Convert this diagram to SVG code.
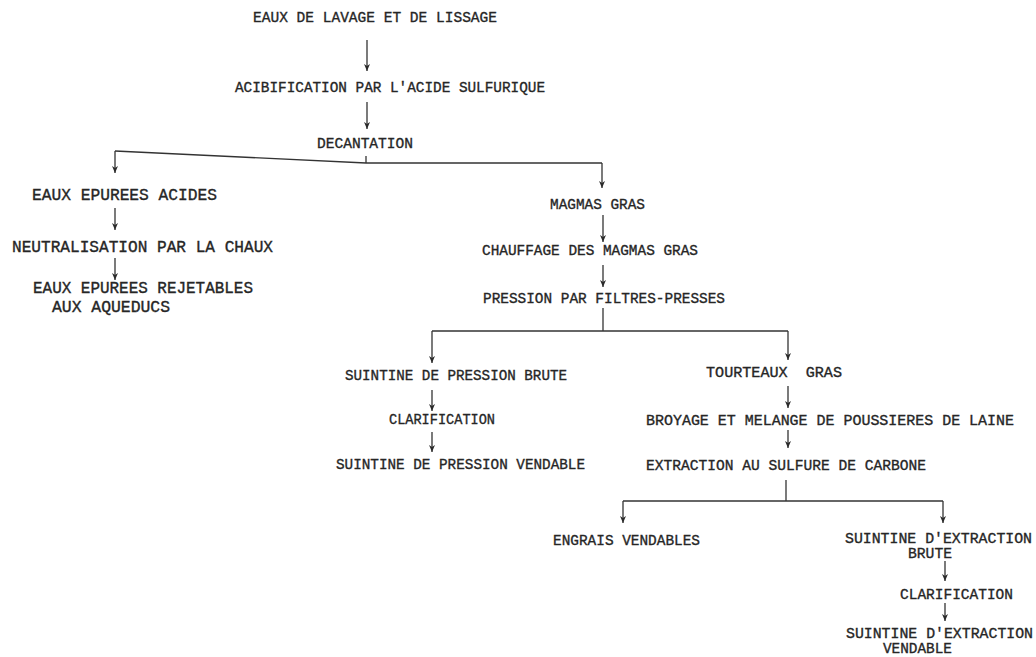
<svg xmlns="http://www.w3.org/2000/svg" width="1036" height="657" viewBox="0 0 1036 657">
  <defs>
    <marker id="ah" markerUnits="userSpaceOnUse" markerWidth="6" markerHeight="7" refX="3" refY="7" orient="0" viewBox="0 0 6 7">
      <path d="M0,0 L3,7 L6,0 L3,2 z" fill="#2a2a2a"/>
    </marker>
  </defs>
  <style>
    text { font-family: "Liberation Mono", "DejaVu Sans Mono", monospace; font-size: 15px; fill: #262626; stroke: #262626; stroke-width: 0.35; white-space: pre; }
    .big { font-size: 16px; }
    .c { fill: none; stroke: #333; stroke-width: 1.3; }
    .a { fill: none; stroke: #333; stroke-width: 1.3; marker-end: url(#ah); }
  </style>
  <rect width="1036" height="657" fill="#ffffff"/>

  <g id="connectors">
    <path class="a" d="M367,40 V71"/>
    <path class="a" d="M367,102 V129"/>
    <path class="c" d="M366,156 V163"/>
    <path class="c" d="M115,151 L366,163 L602,163"/>
    <path class="a" d="M115,151 V173"/>
    <path class="a" d="M602,163 V188"/>
    <path class="a" d="M115,208 V230"/>
    <path class="a" d="M115,258 V280"/>
    <path class="a" d="M603,215 V242"/>
    <path class="a" d="M603,265 V287"/>
    <path class="c" d="M603,308 V331"/>
    <path class="c" d="M432,331 H788"/>
    <path class="a" d="M432,331 V363"/>
    <path class="a" d="M788,331 V360"/>
    <path class="a" d="M432,390 V411"/>
    <path class="a" d="M432,432 V452"/>
    <path class="a" d="M788,386 V408"/>
    <path class="a" d="M788,430 V448"/>
    <path class="c" d="M786,480 V501"/>
    <path class="c" d="M623,501 H943"/>
    <path class="a" d="M623,501 V523"/>
    <path class="a" d="M943,501 V523"/>
    <path class="a" d="M945,561 V581"/>
    <path class="a" d="M945,603 V621"/>
  </g>

  <g id="n-eaux-lavage"><text x="253" y="22" textLength="244" lengthAdjust="spacingAndGlyphs">EAUX DE LAVAGE ET DE LISSAGE</text></g>
  <g id="n-acidification"><text x="235" y="92" textLength="310" lengthAdjust="spacingAndGlyphs">ACIBIFICATION PAR L'ACIDE SULFURIQUE</text></g>
  <g id="n-decantation"><text x="317" y="148" textLength="96" lengthAdjust="spacingAndGlyphs">DECANTATION</text></g>

  <g id="n-eaux-acides"><text class="big" x="32" y="200" textLength="185" lengthAdjust="spacingAndGlyphs">EAUX EPUREES ACIDES</text></g>
  <g id="n-neutralisation"><text class="big" x="12" y="252" textLength="261" lengthAdjust="spacingAndGlyphs">NEUTRALISATION PAR LA CHAUX</text></g>
  <g id="n-eaux-rejetables">
    <text class="big" x="33" y="293" textLength="220" lengthAdjust="spacingAndGlyphs">EAUX EPUREES REJETABLES</text>
    <text class="big" x="52" y="312" textLength="118" lengthAdjust="spacingAndGlyphs">AUX AQUEDUCS</text>
  </g>

  <g id="n-magmas"><text x="550" y="209" textLength="95" lengthAdjust="spacingAndGlyphs">MAGMAS GRAS</text></g>
  <g id="n-chauffage"><text x="482" y="255" textLength="216" lengthAdjust="spacingAndGlyphs">CHAUFFAGE DES MAGMAS GRAS</text></g>
  <g id="n-pression"><text x="483" y="303" textLength="242" lengthAdjust="spacingAndGlyphs">PRESSION PAR FILTRES-PRESSES</text></g>

  <g id="n-suintine-brute"><text x="345" y="380" textLength="222" lengthAdjust="spacingAndGlyphs">SUINTINE DE PRESSION BRUTE</text></g>
  <g id="n-clarification-1"><text x="389" y="424" textLength="106" lengthAdjust="spacingAndGlyphs">CLARIFICATION</text></g>
  <g id="n-suintine-vendable"><text x="336" y="469" textLength="249" lengthAdjust="spacingAndGlyphs">SUINTINE DE PRESSION VENDABLE</text></g>

  <g id="n-tourteaux"><text x="706" y="377" textLength="136" lengthAdjust="spacingAndGlyphs">TOURTEAUX  GRAS</text></g>
  <g id="n-broyage"><text x="646" y="425" textLength="368" lengthAdjust="spacingAndGlyphs">BROYAGE ET MELANGE DE POUSSIERES DE LAINE</text></g>
  <g id="n-extraction"><text x="646" y="470" textLength="280" lengthAdjust="spacingAndGlyphs">EXTRACTION AU SULFURE DE CARBONE</text></g>

  <g id="n-engrais"><text x="553" y="545" textLength="147" lengthAdjust="spacingAndGlyphs">ENGRAIS VENDABLES</text></g>
  <g id="n-suintine-extraction-brute">
    <text x="845" y="543" textLength="187" lengthAdjust="spacingAndGlyphs">SUINTINE D'EXTRACTION</text>
    <text x="908" y="558" textLength="44" lengthAdjust="spacingAndGlyphs">BRUTE</text>
  </g>
  <g id="n-clarification-2"><text x="900" y="599" textLength="113" lengthAdjust="spacingAndGlyphs">CLARIFICATION</text></g>
  <g id="n-suintine-extraction-vendable">
    <text x="846" y="638" textLength="187" lengthAdjust="spacingAndGlyphs">SUINTINE D'EXTRACTION</text>
    <text x="883" y="653" textLength="69" lengthAdjust="spacingAndGlyphs">VENDABLE</text>
  </g>
</svg>
